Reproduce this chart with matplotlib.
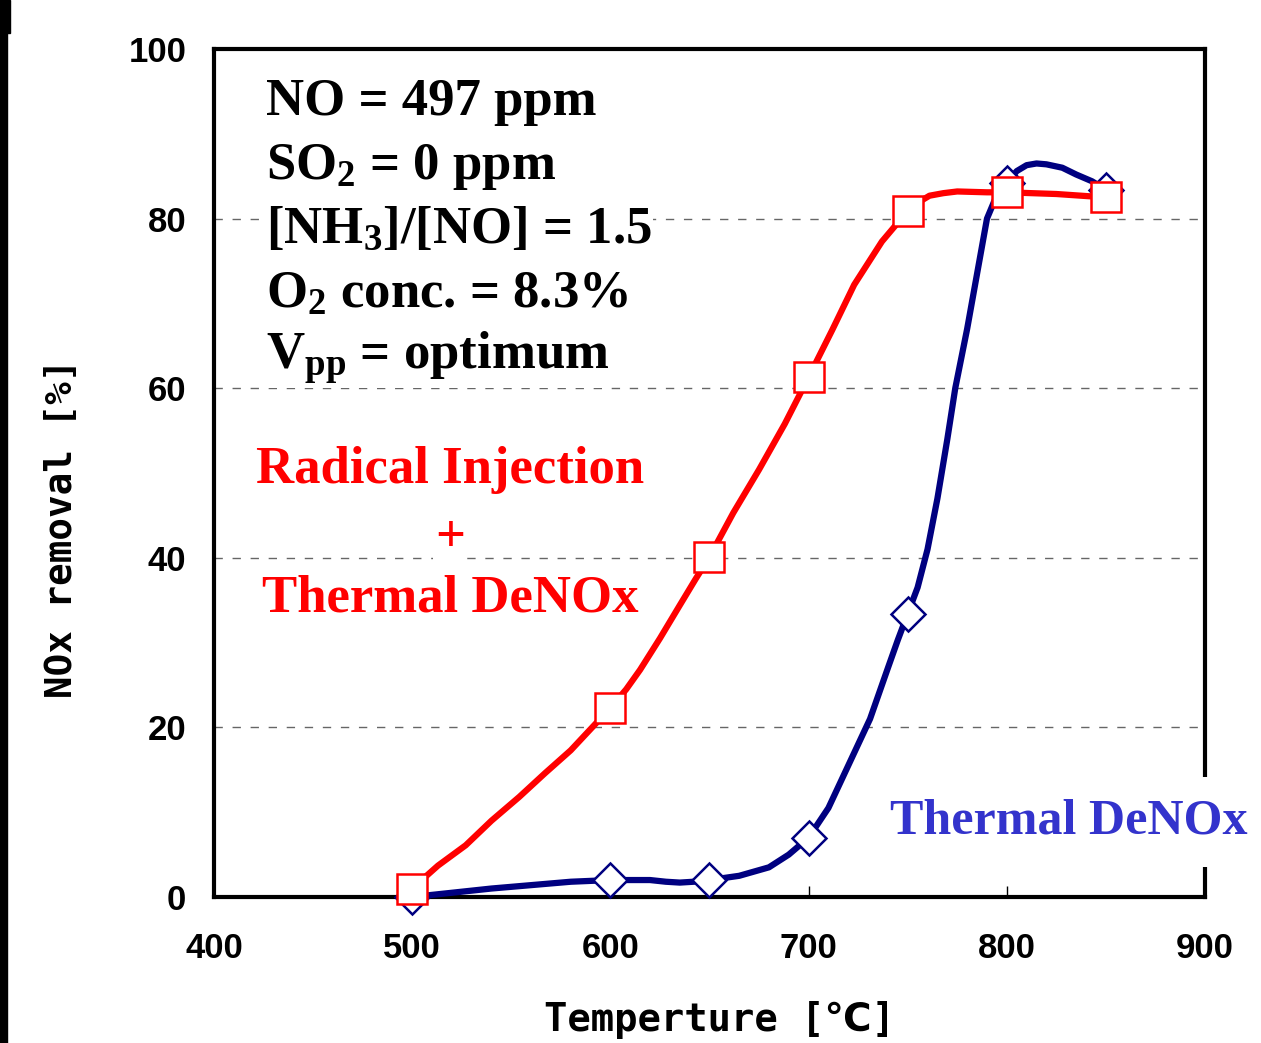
import matplotlib.pyplot as plt
from matplotlib.patches import Rectangle

plt.rcParams["mathtext.fontset"] = "custom"
plt.rcParams["mathtext.rm"] = "Liberation Serif:bold"
plt.rcParams["mathtext.it"] = "Liberation Serif:bold"
plt.rcParams["mathtext.bf"] = "Liberation Serif:bold"

# Measured points (markers)
temps = [500, 600, 650, 700, 750, 800, 850]
radical_pts = [1.0, 22.3, 40.1, 61.3, 80.9, 83.1, 82.5]
thermal_pts = [0.0, 2.0, 2.0, 7.0, 33.4, 84.2, 83.4]

# Smoothed curves
radical_curve_t = [500, 513, 527, 540, 554, 567, 580, 590, 600, 608, 615, 625, 635, 643, 650,
                   662, 675, 688, 700, 712, 723, 737, 750, 756, 761, 768, 775, 790, 800, 825, 850]
radical_curve_y = [1.0, 3.7, 6.1, 9.0, 11.8, 14.6, 17.3, 19.8, 22.3, 24.5, 26.8, 30.5, 34.4, 37.5, 40.1,
                   45.3, 50.4, 55.8, 61.3, 66.9, 72.2, 77.3, 80.9, 82.0, 82.7, 83.0, 83.2, 83.1, 83.1,
                   82.9, 82.5]
thermal_curve_t = [500, 520, 540, 560, 580, 600, 620, 628, 635, 642, 650, 665, 680, 690, 700, 710,
                   720, 731, 740, 745, 750, 755, 760, 765, 770, 774, 780, 785, 790, 795, 800, 805,
                   810, 815, 820, 828, 835, 843, 850]
thermal_curve_y = [0.0, 0.5, 1.0, 1.4, 1.8, 2.0, 2.0, 1.8, 1.7, 1.8, 2.0, 2.5, 3.5, 5.0, 7.0, 10.5,
                   15.5, 21.0, 27.0, 30.3, 33.4, 36.5, 41.0, 47.0, 54.0, 60.0, 67.0, 73.5, 80.0, 82.8,
                   84.2, 85.6, 86.3, 86.5, 86.4, 86.0, 85.2, 84.4, 83.4]

RED = "#ff0000"
NAVY = "#000080"
BLUE_TXT = "#3333cc"

fig = plt.figure(figsize=(12.61, 10.43), dpi=100)
ax = fig.add_axes([214 / 1261, 1 - 897 / 1043, (1205 - 214) / 1261, (897 - 49) / 1043])

# Grid
for yv in [20, 40, 60, 80]:
    ax.axhline(yv, color="#666666", lw=1.0, ls=(0, (6, 7)), zorder=1)

# Thermal DeNOx only
ax.plot(thermal_curve_t, thermal_curve_y, color=NAVY, lw=4.5, zorder=3, clip_on=False,
        solid_joinstyle="round")
ax.plot(temps, thermal_pts, ls="none", marker="D", ms=17, mfc="white", mec=NAVY, mew=1.8,
        zorder=4, clip_on=False)

# Radical injection + thermal DeNOx
ax.plot(radical_curve_t, radical_curve_y, color=RED, lw=4.5, zorder=5, clip_on=False,
        solid_joinstyle="round")
ax.plot(temps, radical_pts, ls="none", marker="s", ms=21, mfc="white", mec=RED, mew=1.8,
        zorder=6, clip_on=False)

ax.set_xlim(400, 900)
ax.set_ylim(0, 100)
ax.set_xticks([400, 500, 600, 700, 800, 900])
ax.set_yticks([0, 20, 40, 60, 80, 100])
for s in ax.spines.values():
    s.set_linewidth(3)
ax.tick_params(axis="x", direction="in", length=8, width=1, pad=25)
ax.tick_params(axis="y", length=0, pad=20)
for lab in ax.get_xticklabels() + ax.get_yticklabels():
    lab.set_fontfamily("Liberation Sans")
    lab.set_fontweight("bold")
    lab.set_fontsize(25)

lab_font = ["DejaVu Sans Mono", "DejaVu Sans"]
ax.set_xlabel("Temperture [℃]", fontsize=28, fontweight="bold", family=lab_font)
ax.xaxis.set_label_coords(0.51, -0.123)
ax.set_ylabel("NOx removal [%]", fontsize=27, fontweight="bold", family=lab_font)
ax.yaxis.set_label_coords(-0.135, 0.435)

# Conditions
cond = ["NO = 497 ppm", r"SO$_2$ = 0 ppm", r"[NH$_3$]/[NO] = 1.5",
        r"O$_2$ conc. = 8.3%", r"V$_{\rm pp}$ = optimum"]
ys = [102, 167, 230, 295, 358]
for t, yp in zip(cond, ys):
    fig.text(266 / 1261, 1 - yp / 1043, t, family="Liberation Serif", weight="bold", fontsize=38,
             ha="left", va="center",
             bbox=dict(facecolor="white", edgecolor="none", pad=1))

# Series labels
tk = dict(family="Liberation Serif", weight="bold", fontsize=38, ha="center", va="center", color=RED)
fig.text(450 / 1261, 1 - 470 / 1043, "Radical Injection", bbox=dict(fc="white", ec="none", pad=1), **tk)
fig.text(450 / 1261, 1 - 538 / 1043, "+", bbox=dict(fc="white", ec="none", pad=1), **tk)
fig.text(450 / 1261, 1 - 598 / 1043, "Thermal DeNOx", bbox=dict(fc="white", ec="none", pad=1), **tk)
fig.text(890 / 1261, 1 - 822 / 1043, "Thermal DeNOx", family="Liberation Serif", weight="bold",
         fontsize=36, ha="left", va="center", color=BLUE_TXT,
         bbox=dict(fc="white", ec="none", pad=16), zorder=10)

# black edge of the slide on the left
fig.patches.append(Rectangle((0, 0), 7 / 1261, 1, transform=fig.transFigure, color="black"))
fig.patches.append(Rectangle((0, 1 - 33 / 1043), 10 / 1261, 33 / 1043, transform=fig.transFigure,
                             color="black"))

fig.savefig("out.png", dpi=100)
